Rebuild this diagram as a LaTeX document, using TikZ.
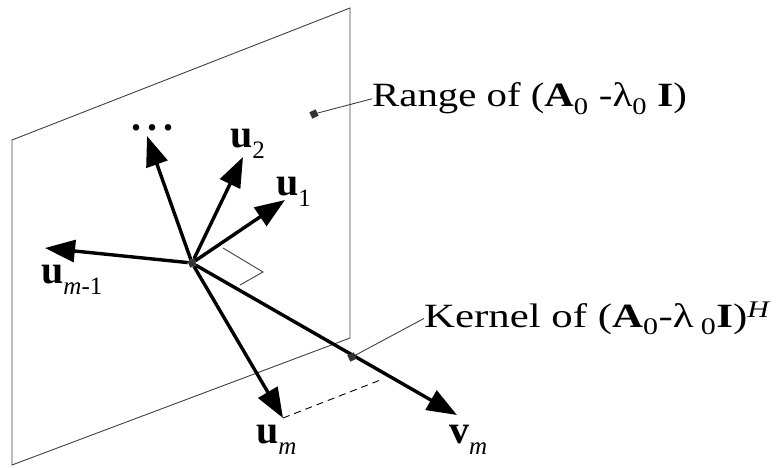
\documentclass[tikz,border=0pt]{standalone}
\usepackage{fontspec}
\setmainfont{Liberation Serif}
\usepackage{graphicx}
\usetikzlibrary{arrows.meta,positioning}

\newcommand{\lsub}[1]{\raisebox{-11pt}{\fontsize{25}{27}\selectfont #1}}

\begin{document}
\begin{tikzpicture}[x=1pt,y=-1pt,
  vec/.style={line width=3.4pt,-{Triangle[length=30pt,width=22pt]}},
  plane/.style={line width=0.9pt,draw=black!75},
  dot/.style={fill=black!80,minimum size=7pt,inner sep=0pt,rotate=25},
  lbl/.style={font=\fontsize{34}{38}\selectfont,inner sep=0pt,anchor=base west},
  vlbl/.style={font=\fontsize{40}{44}\selectfont,inner sep=0pt,anchor=base west}]
  \useasboundingbox (0,0) rectangle (779,468);
  % plane
  \draw[plane] (12,140) -- (350,8) -- (350,338) -- (12,465) -- cycle;
  \draw[plane] (223,248) -- (263,272) -- (240,285);
  % vectors
  \node[dot] (o) at (192,263) {};
  \coordinate (tdots) at (147,136);
  \coordinate (t2) at (243,157);
  \coordinate (t1) at (285,200);
  \coordinate (tk) at (45,248);
  \coordinate (tm) at (283,418);
  \coordinate (tv) at (457,415);
  \coordinate (foot) at (383,379);
  \draw[dashed,dash pattern=on 7pt off 5pt,line width=0.9pt] (tm) -- (foot);
  \foreach \t in {tdots,t2,t1,tk,tm,tv} \draw[vec] (o) -- (\t);
  \node[vlbl,anchor=center] (ldots) at (152,128) {\textbf{.\hspace{6pt}.\hspace{6pt}.}};
  \node[vlbl] (l2) at (230,148) {\textbf{u}\lsub{2}};
  \node[vlbl] (l1) at (276,195) {\textbf{u}\lsub{1}};
  \node[vlbl] (lk) at (41,283) {\textbf{u}\lsub{\itshape m\upshape -1}};
  \node[vlbl] (lm) at (256,443) {\textbf{u}\lsub{\itshape m}};
  \node[vlbl] (lv) at (449,443) {\textbf{v}\lsub{\itshape m}};
  % labels
  \node[dot] (rdot) at (314,114) {};
  \node[lbl] (rng) at (372,107) {\scalebox{1.2}[1]{Range of (\textbf{A}\textsubscript{0} -λ\textsubscript{0} \textbf{I})}};
  \draw[plane] (rdot) -- (rng.west);
  \node[dot] (kdot) at (352,357) {};
  \node[lbl] (ker) at (424,327) {\scalebox{1.26}[1]{Kernel of (\textbf{A}\textsubscript{0}-λ\,\textsubscript{0}\textbf{I})\textsuperscript{\itshape H}}};
  \draw[plane] (kdot) -- (ker.west);
\end{tikzpicture}
\end{document}
